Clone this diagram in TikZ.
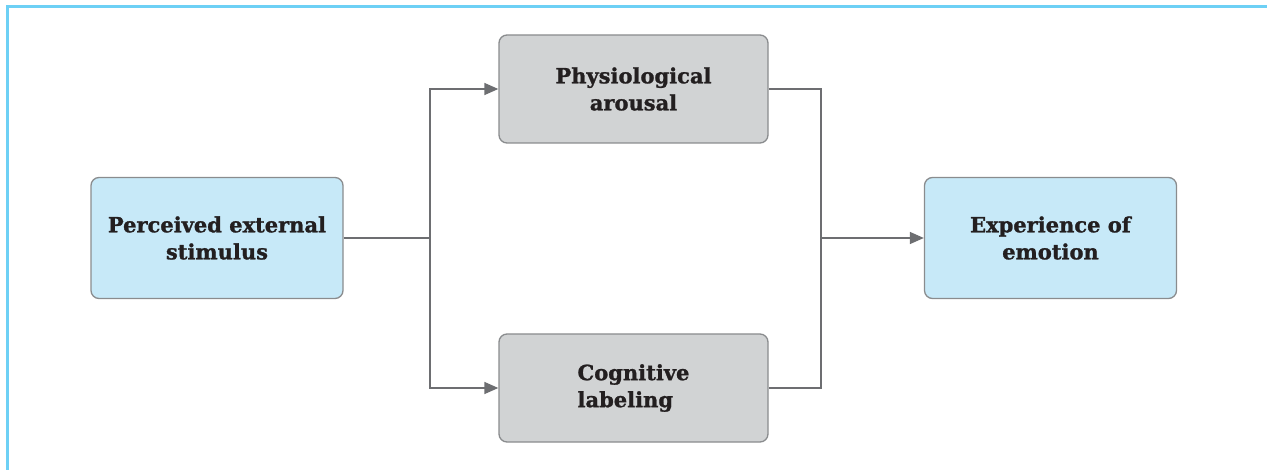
\documentclass[tikz,border=0pt]{standalone}
\usepackage{fontspec}
\setmainfont{DejaVu Serif}
\newfontfamily\heavyfont{DejaVu Serif Bold}[FakeBold=1.2]
\usetikzlibrary{arrows.meta}
\definecolor{framec}{HTML}{6DD0F5}
\definecolor{bluefill}{HTML}{C7E9F8}
\definecolor{grayfill}{HTML}{D1D3D4}
\definecolor{linec}{HTML}{6D6E71}
\definecolor{boxline}{HTML}{8A8C8E}
\definecolor{textc}{HTML}{231F20}
\tikzset{
  boxbase/.style={draw=boxline, line width=1.3pt, rounded corners=8pt, inner sep=0pt,
    font=\heavyfont\fontsize{21}{27}\selectfont, text=textc},
  bluebox/.style={boxbase, fill=bluefill, minimum width=252pt, minimum height=121pt, align=center},
  graybox/.style={boxbase, fill=grayfill, minimum width=269pt, minimum height=108pt},
  conn/.style={draw=linec, line width=1.4pt},
  arr/.style={conn, -{Triangle[length=14pt,width=12pt]}},
}
\begin{document}
\begin{tikzpicture}[x=1pt,y=-1pt]
\useasboundingbox (0,0) rectangle (1267,470);
\draw[framec, line width=3pt] (7,470) -- (7,7) -- (1267,7);
\node[bluebox] (ps) at (217,238) {Perceived external\\stimulus};
\node[graybox, align=center] (pa) at (633.5,89) {Physiological\\arousal};
\node[graybox, align=left] (cl) at (633.5,388) {Cognitive\\labeling};
\node[bluebox] (ee) at (1050.5,238) {Experience of\\emotion};
\coordinate (sp) at (430,238);
\coordinate (jn) at (821,238);
\draw[conn] (ps.east) -- (sp);
\draw[arr] (sp) |- (pa.west);
\draw[arr] (sp) |- (cl.west);
\draw[conn] (pa.east) -| (jn);
\draw[conn] (cl.east) -| (jn);
\draw[arr] (jn) -- (ee.west);
\end{tikzpicture}
\end{document}
